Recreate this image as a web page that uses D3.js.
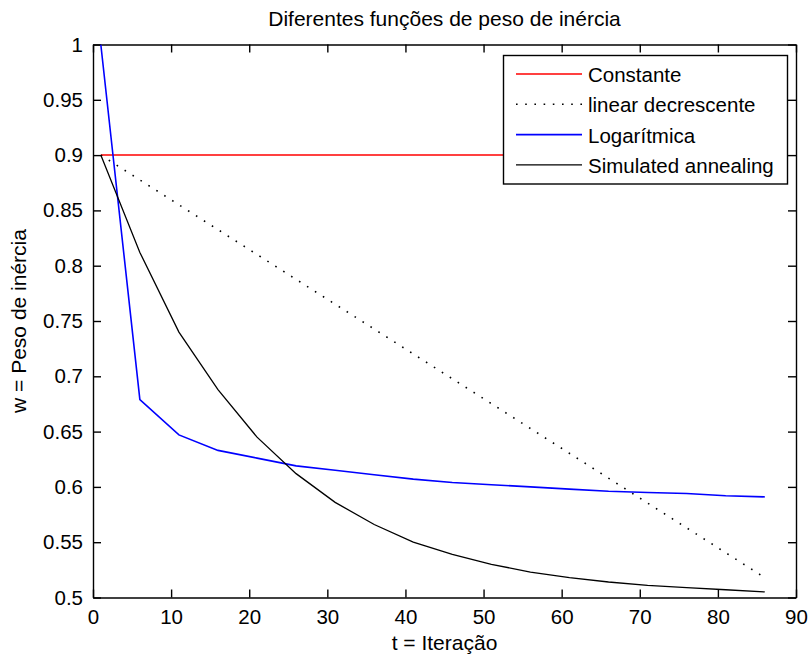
<!DOCTYPE html>
<html><head><meta charset="utf-8">
<script src="https://cdn.jsdelivr.net/npm/d3@7"></script>
<style>
html,body{margin:0;padding:0;background:#fff;}
svg text{font-family:"Liberation Sans",Arial,sans-serif;fill:#000;}
</style></head>
<body><svg id="c" width="808" height="657"></svg>
<script>
// ---- data ----
const chartTitle = "Diferentes funções de peso de inércia";
const xLabel = "t = Iteração";
const yLabel = "w = Peso de inércia";
const seriesNames = ["Constante", "linear decrescente", "Logarítmica", "Simulated annealing"];
const xTicks = [0,10,20,30,40,50,60,70,80,90];
const yTicks = [0.5,0.55,0.6,0.65,0.7,0.75,0.8,0.85,0.9,0.95,1];
const yTickLabels = ["0.5","0.55","0.6","0.65","0.7","0.75","0.8","0.85","0.9","0.95","1"];

const constT = [1, 86];
const constW = [0.9, 0.9];
const linT = [1, 86];
const linW = [0.9, 0.518];
const sampleT = [1,6,11,16,21,26,31,36,41,46,51,56,61,66,71,76,81,86];
const logW = [1.0,0.679,0.647,0.633,0.626,0.619,0.615,0.611,0.607,0.604,0.602,0.600,0.598,0.596,0.595,0.594,0.592,0.591];
const saW = [0.9,0.812,0.740,0.688,0.645,0.612,0.586,0.566,0.550,0.539,0.530,0.523,0.518,0.514,0.511,0.509,0.507,0.505];

// ---- layout ----
const svg = d3.select("#c");
const L = 93, R = 796, T = 44.5, B = 597.5;
const x = d3.scaleLinear().domain([0,90]).range([L,R]);
const y = d3.scaleLinear().domain([0.5,1]).range([B,T]);
const fs = 20.5;

svg.append("rect").attr("x",0).attr("y",0).attr("width",808).attr("height",657).attr("fill","#fff");

// clip
svg.append("clipPath").attr("id","clip").append("rect")
  .attr("x",L).attr("y",T).attr("width",R-L).attr("height",B-T);

function styleAxis(g, showLabels){
  g.select(".domain").attr("stroke","#000").attr("stroke-width",1.4);
  g.selectAll(".tick line").attr("stroke","#000").attr("stroke-width",1.4);
  g.selectAll(".tick text").style("font-size",fs+"px").attr("fill","#000");
  if(!showLabels) g.selectAll(".tick text").remove();
}

const gB = svg.append("g").attr("transform",`translate(0,${B})`)
  .call(d3.axisBottom(x).tickValues(xTicks).tickSizeInner(-8).tickSizeOuter(0).tickPadding(12).tickFormat(d3.format("d")));
styleAxis(gB,true);
const gT = svg.append("g").attr("transform",`translate(0,${T})`)
  .call(d3.axisTop(x).tickValues(xTicks).tickSizeInner(-8).tickSizeOuter(0));
styleAxis(gT,false);
const gL = svg.append("g").attr("transform",`translate(${L},0)`)
  .call(d3.axisLeft(y).tickValues(yTicks).tickSizeInner(-8).tickSizeOuter(0).tickPadding(10)
    .tickFormat((d,i)=>yTickLabels[i]));
styleAxis(gL,true);
const gR = svg.append("g").attr("transform",`translate(${R},0)`)
  .call(d3.axisRight(y).tickValues(yTicks).tickSizeInner(-8).tickSizeOuter(0));
styleAxis(gR,false);

// lines
const line = d3.line().x(d=>x(d[0])).y(d=>y(d[1]));
const plot = svg.append("g").attr("clip-path","url(#clip)");
const zip = (a,b)=>a.map((v,i)=>[v,b[i]]);

plot.append("path").datum(zip(constT,constW)).attr("d",line)
  .attr("fill","none").attr("stroke","#ff0000").attr("stroke-width",1.5);
plot.append("path").datum(zip(linT,linW)).attr("d",line)
  .attr("fill","none").attr("stroke","#000").attr("stroke-width",1.6)
  .attr("stroke-dasharray","1.6,7.8");
plot.append("path").datum(zip(sampleT,logW)).attr("d",line)
  .attr("fill","none").attr("stroke","#0000ff").attr("stroke-width",1.6);
plot.append("path").datum(zip(sampleT,saW)).attr("d",line)
  .attr("fill","none").attr("stroke","#000").attr("stroke-width",1.3);

// legend
const lg = svg.append("g");
lg.append("rect").attr("x",503.5).attr("y",55.5).attr("width",284).attr("height",128.5)
  .attr("fill","#fff").attr("stroke","#000").attr("stroke-width",1.4);
const legendStyles = [
  {c:"#ff0000", w:1.5, dash:null},
  {c:"#000", w:1.6, dash:"1.6,7.6"},
  {c:"#0000ff", w:1.6, dash:null},
  {c:"#000", w:1.3, dash:null}
];
seriesNames.forEach((name,i)=>{
  const cy = 75 + i*30.3;
  const s = legendStyles[i];
  const ln = lg.append("line").attr("x1",516).attr("x2",582).attr("y1",cy-1).attr("y2",cy-1)
    .attr("stroke",s.c).attr("stroke-width",s.w);
  if(s.dash) ln.attr("stroke-dasharray",s.dash);
  lg.append("text").attr("x",588).attr("y",cy).attr("dy","0.35em")
    .style("font-size",fs+"px").text(name);
});

// titles
svg.append("text").attr("x",(L+R)/2).attr("y",26).attr("text-anchor","middle")
  .style("font-size","21px").text(chartTitle);
svg.append("text").attr("x",(L+R)/2).attr("y",650).attr("text-anchor","middle")
  .style("font-size","21px").text(xLabel);
svg.append("text").attr("transform",`translate(26,${(T+B)/2}) rotate(-90)`)
  .attr("text-anchor","middle").style("font-size","21px").text(yLabel);
</script></body></html>
